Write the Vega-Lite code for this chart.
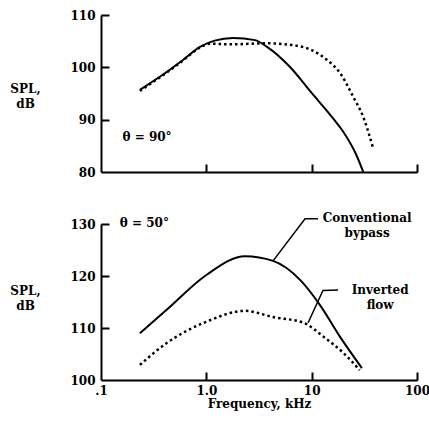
{
  "$schema": "https://vega.github.io/schema/vega-lite/v6.json",
  "background": "white",
  "padding": {"left": 9, "top": 9, "right": 2, "bottom": 2},
  "bounds": "flush",
  "spacing": 52,
  "config": {
    "view": {"stroke": null},
    "font": "DejaVu Serif",
    "axis": {"grid": false, "labelFlush": false, "domainColor": "black", "domainWidth": 2, "tickColor": "black", "tickWidth": 2, "tickSize": 8, "labelFont": "DejaVu Serif", "labelFontSize": 12, "labelFontWeight": "bold", "labelColor": "black", "titleFont": "DejaVu Serif", "titleColor": "black", "titleFontWeight": "bold", "titleFontSize": 12},
    "text": {"font": "DejaVu Serif", "fontSize": 12, "fontWeight": "bold", "color": "black"}
  },
  "datasets": {
    "top": [
      {"series": "conv", "freq": 0.234, "spl": 95.7},
      {"series": "conv", "freq": 0.42, "spl": 99.1},
      {"series": "conv", "freq": 0.6, "spl": 101.4},
      {"series": "conv", "freq": 0.87, "spl": 103.9},
      {"series": "conv", "freq": 1.2, "spl": 105.1},
      {"series": "conv", "freq": 1.79, "spl": 105.6},
      {"series": "conv", "freq": 2.9, "spl": 105.2},
      {"series": "conv", "freq": 3.77, "spl": 103.9},
      {"series": "conv", "freq": 6.2, "spl": 100.1},
      {"series": "conv", "freq": 10, "spl": 95.1},
      {"series": "conv", "freq": 15.9, "spl": 90.3},
      {"series": "conv", "freq": 19.8, "spl": 87.8},
      {"series": "conv", "freq": 26.5, "spl": 83.3},
      {"series": "conv", "freq": 30.9, "spl": 80},
      {"series": "inv", "freq": 0.234, "spl": 95.5},
      {"series": "inv", "freq": 0.42, "spl": 99.0},
      {"series": "inv", "freq": 0.6, "spl": 101.3},
      {"series": "inv", "freq": 0.87, "spl": 103.8},
      {"series": "inv", "freq": 1.08, "spl": 104.5},
      {"series": "inv", "freq": 1.79, "spl": 104.4},
      {"series": "inv", "freq": 3.77, "spl": 104.6},
      {"series": "inv", "freq": 6.2, "spl": 104.3},
      {"series": "inv", "freq": 10, "spl": 103.3},
      {"series": "inv", "freq": 14, "spl": 101.4},
      {"series": "inv", "freq": 18.6, "spl": 98.9},
      {"series": "inv", "freq": 24.9, "spl": 94.3},
      {"series": "inv", "freq": 30.9, "spl": 90.5},
      {"series": "inv", "freq": 38, "spl": 84.8}
    ],
    "bottom": [
      {"series": "conv", "freq": 0.234, "spl": 109.0},
      {"series": "conv", "freq": 0.42, "spl": 113.5},
      {"series": "conv", "freq": 1.0, "spl": 120.2},
      {"series": "conv", "freq": 2.33, "spl": 123.8},
      {"series": "conv", "freq": 4.3, "spl": 122.9},
      {"series": "conv", "freq": 7.8, "spl": 119.2},
      {"series": "conv", "freq": 12, "spl": 114.4},
      {"series": "conv", "freq": 18.6, "spl": 108.3},
      {"series": "conv", "freq": 30, "spl": 102.3},
      {"series": "inv", "freq": 0.234, "spl": 102.9},
      {"series": "inv", "freq": 0.42, "spl": 107.1},
      {"series": "inv", "freq": 1.0, "spl": 111.2},
      {"series": "inv", "freq": 2.33, "spl": 113.3},
      {"series": "inv", "freq": 4.3, "spl": 112.1},
      {"series": "inv", "freq": 8.4, "spl": 111.0},
      {"series": "inv", "freq": 13, "spl": 108.3},
      {"series": "inv", "freq": 20, "spl": 105.2},
      {"series": "inv", "freq": 28.6, "spl": 101.9}
    ],
    "leaders": [
      {"leader": "conv", "i": 0, "freq": 4.3, "spl": 122.9},
      {"leader": "conv", "i": 1, "freq": 8.65, "spl": 131.0},
      {"leader": "conv", "i": 2, "freq": 11.5, "spl": 131.0},
      {"leader": "inv", "i": 0, "freq": 9.25, "spl": 111.0},
      {"leader": "inv", "i": 1, "freq": 12.8, "spl": 117.2},
      {"leader": "inv", "i": 2, "freq": 17.8, "spl": 117.3}
    ],
    "labels": [
      {"freq": 33.6, "spl": 131.2, "text": "Conventional"},
      {"freq": 33.6, "spl": 128.3, "text": "bypass"},
      {"freq": 44.7, "spl": 117.3, "text": "Inverted"},
      {"freq": 44.7, "spl": 114.4, "text": "flow"}
    ]
  },
  "vconcat": [
    {
      "width": 316,
      "height": 157,
      "resolve": {"axis": {"x": "independent", "y": "independent"}},
      "layer": [
        {
          "data": {"name": "top"},
          "transform": [{"filter": "datum.series === 'conv'"}],
          "mark": {"type": "line", "color": "black", "strokeWidth": 2, "interpolate": "monotone"},
          "encoding": {
            "x": {"field": "freq", "type": "quantitative", "scale": {"type": "log", "domain": [0.1, 100]}, "axis": {"values": [0.1, 1, 10, 100], "labels": false, "ticks": false, "title": null}},
            "y": {"field": "spl", "type": "quantitative", "scale": {"domain": [80, 110]}, "axis": {"values": [80, 90, 100, 110], "ticks": false, "labelPadding": 6, "title": ["SPL,", "dB"], "titleAngle": 0, "titleX": -76, "titleY": 77, "titleAlign": "center", "titleBaseline": "alphabetic", "titleLineHeight": 15}}
          }
        },
        {
          "data": {"name": "top"},
          "transform": [{"filter": "datum.series === 'inv'"}],
          "mark": {"type": "line", "color": "black", "strokeWidth": 2.5, "strokeDash": [2.5, 3], "interpolate": "monotone"},
          "encoding": {
            "x": {"field": "freq", "type": "quantitative", "axis": {"orient": "top", "offset": -157, "ticks": true, "values": [1, 10, 100], "labels": false, "domain": false, "title": null}},
            "y": {"field": "spl", "type": "quantitative", "axis": {"orient": "right", "offset": -316, "ticks": true, "values": [90, 100, 110], "labels": false, "domain": false, "title": null}}
          }
        },
        {
          "data": {"values": [{"freq": 0.16, "spl": 86.7, "text": "θ = 90°"}]},
          "mark": {"type": "text", "align": "left", "baseline": "middle"},
          "encoding": {
            "x": {"field": "freq", "type": "quantitative", "axis": null},
            "y": {"field": "spl", "type": "quantitative", "axis": null},
            "text": {"field": "text"}
          }
        }
      ]
    },
    {
      "width": 316,
      "height": 156,
      "resolve": {"axis": {"x": "independent", "y": "independent"}},
      "layer": [
        {
          "data": {"name": "bottom"},
          "transform": [{"filter": "datum.series === 'conv'"}],
          "mark": {"type": "line", "color": "black", "strokeWidth": 2, "interpolate": "monotone"},
          "encoding": {
            "x": {"field": "freq", "type": "quantitative", "scale": {"type": "log", "domain": [0.1, 100]}, "axis": {"values": [0.1, 1, 10, 100], "ticks": false, "labelPadding": 5, "labelExpr": "datum.value < 0.5 ? '.1' : datum.value < 5 ? '1.0' : datum.value < 50 ? '10' : '100'", "title": "Frequency, kHz", "titlePadding": 2}},
            "y": {"field": "spl", "type": "quantitative", "scale": {"domain": [100, 130]}, "axis": {"values": [100, 110, 120, 130], "ticks": false, "labelPadding": 6, "title": ["SPL,", "dB"], "titleAngle": 0, "titleX": -76, "titleY": 70, "titleAlign": "center", "titleBaseline": "alphabetic", "titleLineHeight": 15}}
          }
        },
        {
          "data": {"name": "bottom"},
          "transform": [{"filter": "datum.series === 'inv'"}],
          "mark": {"type": "line", "color": "black", "strokeWidth": 2.5, "strokeDash": [2.5, 3], "interpolate": "monotone"},
          "encoding": {
            "x": {"field": "freq", "type": "quantitative", "axis": {"orient": "top", "offset": -156, "ticks": true, "values": [1, 10, 100], "labels": false, "domain": false, "title": null}},
            "y": {"field": "spl", "type": "quantitative", "axis": {"orient": "right", "offset": -316, "ticks": true, "values": [110, 120, 130], "labels": false, "domain": false, "title": null}}
          }
        },
        {
          "data": {"name": "leaders"},
          "mark": {"type": "line", "color": "black", "strokeWidth": 1.5},
          "encoding": {
            "x": {"field": "freq", "type": "quantitative", "axis": null},
            "y": {"field": "spl", "type": "quantitative", "axis": null},
            "detail": {"field": "leader"},
            "order": {"field": "i"}
          }
        },
        {
          "data": {"name": "labels"},
          "mark": {"type": "text", "align": "center", "baseline": "middle"},
          "encoding": {
            "x": {"field": "freq", "type": "quantitative", "axis": null},
            "y": {"field": "spl", "type": "quantitative", "axis": null},
            "text": {"field": "text"}
          }
        },
        {
          "data": {"values": [{"freq": 0.151, "spl": 130.2, "text": "θ = 50°"}]},
          "mark": {"type": "text", "align": "left", "baseline": "middle"},
          "encoding": {
            "x": {"field": "freq", "type": "quantitative", "axis": null},
            "y": {"field": "spl", "type": "quantitative", "axis": null},
            "text": {"field": "text"}
          }
        }
      ]
    }
  ]
}
